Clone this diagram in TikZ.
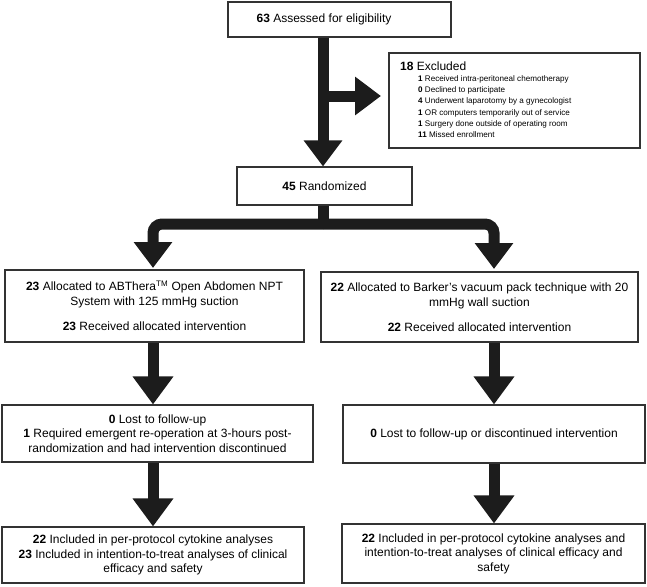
\documentclass[tikz,border=0pt]{standalone}
\usepackage{fontspec}
\setmainfont{Liberation Sans}
\usetikzlibrary{arrows.meta}
\definecolor{arrowc}{HTML}{1C1C1C}
\definecolor{boxc}{HTML}{333333}
\tikzset{
  flowbox/.style={draw=boxc, line width=1.1pt, inner sep=0pt, align=center,
    font=\fontsize{12}{15}\selectfont},
  fat/.style={draw=arrowc, line width=11pt, line cap=butt},
  bighead/.style={-{Triangle[width=37pt,length=26pt]}},
  lowhead/.style={-{Triangle[width=39pt,length=28pt]}},
}
\begin{document}
\begin{tikzpicture}[x=1pt,y=-1pt]
\useasboundingbox (0,0) rectangle (647,586);
% boxes
\node[flowbox, minimum width=223pt, minimum height=35pt] (assess) at (339.5,19.5) {};
\node[inner sep=0pt, font=\fontsize{12}{15}\selectfont] (assesstext) at (324,19.5)
  {\textbf{63} Assessed for eligibility};
\node[flowbox, minimum width=251pt, minimum height=95pt] (excl) at (514.5,100.5) {};
\node[anchor=west, inner sep=0pt, font=\fontsize{12}{14}\selectfont] (exhead) at (400,66)
  {\textbf{18} Excluded};
\node[anchor=north west, inner sep=0pt, align=left, font=\fontsize{8.1}{11.2}\selectfont] (exlist) at (418,75.5)
  {\textbf{1} Received intra-peritoneal chemotherapy\\
   \textbf{0} Declined to participate\\
   \textbf{4} Underwent laparotomy by a gynecologist\\
   \textbf{1} OR computers temporarily out of service\\
   \textbf{1} Surgery done outside of operating room\\
   \textbf{11} Missed enrollment};
\node[flowbox, minimum width=175pt, minimum height=38pt] (rand) at (324.5,186)
  {\textbf{45} Randomized};
\node[flowbox, minimum width=299pt, minimum height=72pt] (allocL) at (154.5,306)
  {\textbf{23} Allocated to ABThera\textsuperscript{TM} Open Abdomen NPT\\
   System with 125 mmHg suction\\[10pt]
   \textbf{23} Received allocated intervention};
\node[flowbox, minimum width=317pt, minimum height=70pt] (allocR) at (479.5,307)
  {\textbf{22} Allocated to Barker's vacuum pack technique with 20\\
   mmHg wall suction\\[10pt]
   \textbf{22} Received allocated intervention};
\node[flowbox, minimum width=311pt, minimum height=57pt, font=\fontsize{12}{14.5}\selectfont] (lostL) at (157.5,433.5)
  {\textbf{0} Lost to follow-up\\
   \textbf{1} Required emergent re-operation at 3-hours post-\\
   randomization and had intervention discontinued};
\node[flowbox, minimum width=302pt, minimum height=58pt] (lostR) at (494,434)
  {\textbf{0} Lost to follow-up or discontinued intervention};
\node[flowbox, minimum width=302pt, minimum height=56pt, font=\fontsize{12}{14.5}\selectfont] (finL) at (153,555)
  {\textbf{22} Included in per-protocol cytokine analyses\\
   \textbf{23} Included in intention-to-treat analyses of clinical\\
   efficacy and safety};
\node[flowbox, minimum width=303pt, minimum height=59pt, font=\fontsize{12}{14.5}\selectfont] (finR) at (493.5,553.5)
  {\textbf{22} Included in per-protocol cytokine analyses and\\
   intention-to-treat analyses of clinical efficacy and\\
   safety};
% connector coordinates
\coordinate (top1) at (assess.south -| 323,0);
\coordinate (top2) at (rand.north -| 323,0);
\coordinate (br) at (323,96);
\coordinate (brend) at (381,96);
\coordinate (stem1) at (rand.south -| 323,0);
\coordinate (bar) at (323,224);
\coordinate (tipL) at (153,268);
\coordinate (tipR) at (494,269);
% arrows
\draw[fat, bighead] (top1) -- (top2);
\draw[fat, bighead] (br) -- (brend);
\draw[fat] (stem1) -- ([yshift=0.5pt]bar);
\draw[fat, bighead, rounded corners=9pt] (bar) -| (tipL);
\draw[fat, bighead, rounded corners=9pt] (bar) -| (tipR);
\draw[fat, lowhead] (allocL.south -| tipL) -- (lostL.north -| tipL);
\draw[fat, lowhead] (lostL.south -| tipL) -- (finL.north -| tipL);
\draw[fat, lowhead] (allocR.south -| tipR) -- (lostR.north -| tipR);
\draw[fat, lowhead] (lostR.south -| tipR) -- (finR.north -| tipR);
\end{tikzpicture}
\end{document}
